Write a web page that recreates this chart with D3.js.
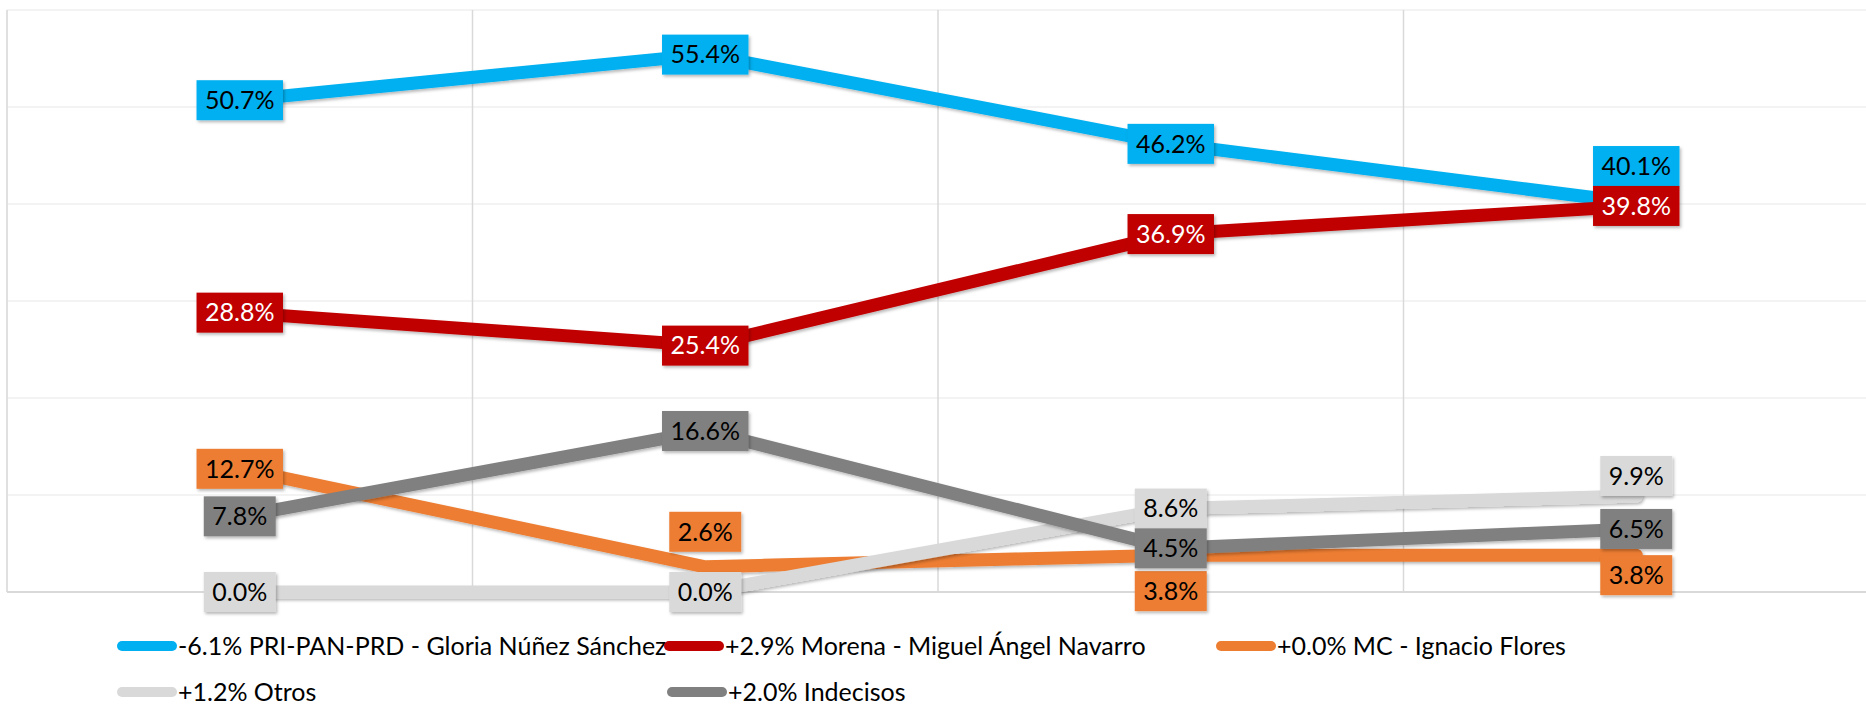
<!DOCTYPE html>
<html>
	<head>
		<title>Encuestas</title>
		<script src="https://d3js.org/d3.v7.min.js"></script>
		<style>
			html, body {
				margin: 0;
				padding: 0;
				background: #fff;
			}
			text {
				font-family: "Gill Sans MT", "Gill Sans", Lato, "DejaVu Sans", sans-serif;
			}
		</style>
	</head>
	<body>
		<div class="chart"></div>
		<script>
			// data
			var categories = ["Medición 1", "Medición 2", "Medición 3", "Medición 4"];
			var seriesNames = [
				"-6.1% PRI-PAN-PRD - Gloria Núñez Sánchez",
				"+2.9% Morena - Miguel Ángel Navarro",
				"+0.0% MC - Ignacio Flores",
				"+1.2% Otros",
				"+2.0% Indecisos"
			];
			var priValues = [50.7, 55.4, 46.2, 40.1];
			var morenaValues = [28.8, 25.4, 36.9, 39.8];
			var mcValues = [12.7, 2.6, 3.8, 3.8];
			var otrosValues = [0.0, 0.0, 8.6, 9.9];
			var indecisosValues = [7.8, 16.6, 4.5, 6.5];
			var yTicks = [0, 10, 20, 30, 40, 50, 60];

			// styling, kept apart from the values
			var colors = ["#00B0F0", "#C00000", "#ED7D31", "#D9D9D9", "#808080"];
			var labelInk = ["#000", "#fff", "#000", "#000", "#000"];
			// vertical nudge of each data label (px), as the labels were moved by hand
			var labelShift = [
				[0, 0, 0, -37],
				[0, 0, 0, 0],
				[0, -35, 36, 20],
				[0, 0, 0, -20],
				[0, 0, 0, 0]
			];

			var series = [priValues, morenaValues, mcValues, otrosValues, indecisosValues].map(function(v, i) {
				return {name: seriesNames[i], values: v, color: colors[i], ink: labelInk[i], shift: labelShift[i]};
			});

			var W = 1866, H = 706;
			var plotLeft = 7, plotTop = 10, plotBottom = 592, band = 465.5;

			var svg = d3.select(".chart").append("svg")
				.attr("width", W)
				.attr("height", H);

			var defs = svg.append("defs");
			var f = defs.append("filter").attr("id", "shadow")
				.attr("x", "-10%").attr("y", "-10%").attr("width", "130%").attr("height", "140%");
			f.append("feDropShadow")
				.attr("dx", 1.5).attr("dy", 2)
				.attr("stdDeviation", 1.8)
				.attr("flood-color", "#000")
				.attr("flood-opacity", 0.28);

			var x = d3.scaleBand()
				.domain(categories)
				.range([plotLeft, plotLeft + band * categories.length])
				.padding(0);

			var y = d3.scaleLinear()
				.domain([0, 60])
				.range([plotBottom, plotTop]);

			function cx(c) { return x(c) + x.bandwidth() / 2; }

			// horizontal gridlines
			svg.append("g").selectAll("line")
				.data(yTicks.slice(1))
				.enter().append("line")
				.attr("x1", plotLeft).attr("x2", W)
				.attr("y1", function(d) { return y(d); })
				.attr("y2", function(d) { return y(d); })
				.attr("stroke", "#efefef")
				.attr("stroke-width", 1.5);

			// vertical gridlines on category boundaries
			svg.append("g").selectAll("line")
				.data(categories.slice(1))
				.enter().append("line")
				.attr("x1", function(d) { return x(d); })
				.attr("x2", function(d) { return x(d); })
				.attr("y1", y(60)).attr("y2", y(0))
				.attr("stroke", "#d9d9d9")
				.attr("stroke-width", 1.5);

			// axis lines
			svg.append("line")
				.attr("x1", plotLeft).attr("x2", plotLeft)
				.attr("y1", y(60)).attr("y2", y(0))
				.attr("stroke", "#e0e0e0").attr("stroke-width", 2);
			svg.append("line")
				.attr("x1", plotLeft).attr("x2", W)
				.attr("y1", y(0)).attr("y2", y(0))
				.attr("stroke", "#d9d9d9").attr("stroke-width", 2);

			var line = d3.line()
				.x(function(d, i) { return cx(categories[i]); })
				.y(function(d) { return y(d); });

			svg.append("g").selectAll("path")
				.data(series)
				.enter().append("path")
				.attr("d", function(s) { return line(s.values); })
				.attr("fill", "none")
				.attr("stroke", function(s) { return s.color; })
				.attr("stroke-width", 13)
				.attr("stroke-linejoin", "round")
				.attr("stroke-linecap", "round")
				.attr("filter", "url(#shadow)");

			// data labels
			var fontSize = 25;
			var labels = svg.append("g");
			series.forEach(function(s) {
				s.values.forEach(function(v, i) {
					var g = labels.append("g")
						.attr("transform", "translate(" + cx(categories[i]) + "," + (y(v) + s.shift[i]) + ")");
					var rect = g.append("rect").attr("fill", s.color).attr("filter", "url(#shadow)");
					var t = g.append("text")
						.attr("text-anchor", "middle")
						.attr("dy", "0.35em")
						.attr("font-size", fontSize)
						.attr("fill", s.ink)
						.text(v.toFixed(1) + "%");
					var w = t.node().getComputedTextLength() + 17;
					rect.attr("x", -w / 2).attr("y", -20).attr("width", w).attr("height", 40);
				});
			});

			// legend
			var legendPos = [[117, 646], [664, 646], [1216, 646], [117, 692], [667, 692]];
			var legend = svg.append("g").selectAll("g")
				.data(series)
				.enter().append("g")
				.attr("transform", function(s, i) { return "translate(" + legendPos[i][0] + "," + legendPos[i][1] + ")"; });
			legend.append("line")
				.attr("x1", 5).attr("x2", 55)
				.attr("stroke", function(s) { return s.color; })
				.attr("stroke-width", 10)
				.attr("stroke-linecap", "round");
			legend.append("text")
				.attr("x", 61)
				.attr("dy", "0.35em")
				.attr("font-size", fontSize)
				.attr("fill", "#000")
				.text(function(s) { return s.name; });
		</script>
	</body>
</html>
